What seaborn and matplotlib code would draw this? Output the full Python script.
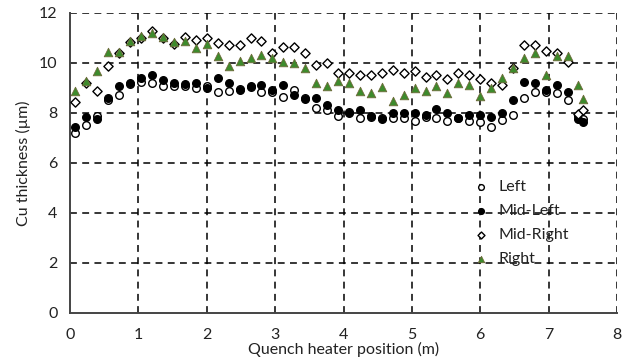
import numpy as np
import pandas as pd
import matplotlib
matplotlib.use("Agg")
import matplotlib.pyplot as plt
import seaborn as sns

# ---- data ----
position = [0.08, 0.24, 0.40, 0.56, 0.72, 0.88, 1.04, 1.20, 1.36, 1.52,
            1.68, 1.84, 2.00, 2.16, 2.32, 2.48, 2.64, 2.80, 2.96, 3.12,
            3.28, 3.44, 3.60, 3.76, 3.92, 4.08, 4.24, 4.40, 4.56, 4.72,
            4.88, 5.04, 5.20, 5.36, 5.52, 5.68, 5.84, 6.00, 6.16, 6.32,
            6.48, 6.64, 6.80, 6.96, 7.12, 7.28, 7.43, 7.51]

left = [7.21, 7.52, 7.88, 8.52, 8.72, 9.16, 9.25, 9.19, 9.08, 9.10,
        9.09, 8.99, 9.08, 8.85, 8.89, 8.95, 9.03, 8.85, 8.85, 8.63,
        8.92, 8.59, 8.19, 8.12, 7.88, 8.05, 7.81, 7.85, 7.79, 7.79,
        7.79, 7.69, 7.85, 7.79, 7.69, 7.80, 7.69, 7.65, 7.43, 7.72,
        7.92, 8.59, 8.83, 8.85, 8.81, 8.52, 7.90, 7.75]

mid_left = [7.45, 7.83, 7.75, 8.59, 9.08, 9.21, 9.39, 9.52, 9.32, 9.21,
            9.16, 9.21, 8.99, 9.39, 9.21, 8.92, 9.08, 9.12, 8.92, 9.12,
            8.72, 8.55, 8.59, 8.32, 8.12, 8.01, 8.12, 7.88, 7.76, 8.01,
            8.01, 8.01, 7.92, 8.15, 8.01, 7.79, 7.92, 7.92, 7.83, 8.01,
            8.52, 9.23, 9.21, 8.92, 9.12, 8.85, 7.75, 7.65]

mid_right = [8.45, 9.21, 8.89, 9.89, 10.41, 10.85, 10.99, 11.29, 10.99, 10.76,
             11.03, 10.92, 10.99, 10.79, 10.72, 10.72, 10.99, 10.89, 10.41, 10.63,
             10.63, 10.41, 9.92, 10.01, 9.61, 9.61, 9.52, 9.52, 9.59, 9.72,
             9.61, 9.69, 9.43, 9.52, 9.35, 9.61, 9.52, 9.35, 9.21, 9.12,
             9.79, 10.72, 10.72, 10.49, 10.41, 10.05, 7.95, 8.12]

right = [8.89, 9.29, 9.69, 10.45, 10.45, 10.89, 11.08, 11.21, 11.03, 10.85,
         10.89, 10.59, 10.76, 10.29, 9.89, 10.09, 10.21, 10.32, 10.21, 10.05,
         10.01, 9.79, 9.21, 9.08, 9.29, 9.21, 8.89, 8.81, 9.03, 8.49,
         8.72, 8.99, 8.89, 9.08, 8.81, 9.21, 9.12, 8.69, 8.99, 9.39,
         9.79, 10.19, 10.39, 9.52, 10.28, 10.28, 9.12, 8.56]

series_names = ["Left", "Mid-Left", "Mid-Right", "Right"]
x_ticks = [0, 1, 2, 3, 4, 5, 6, 7, 8]
y_ticks = [0, 2, 4, 6, 8, 10, 12]

df = pd.DataFrame({
    "pos": position * 4,
    "thk": left + mid_left + mid_right + right,
    "series": sum([[n] * len(position) for n in series_names], []),
})

# ---- styling ----
sns.set_theme(style="white")
plt.rcParams["font.family"] = ["Lato", "DejaVu Sans"]

fig = plt.figure(figsize=(6.32, 3.58), dpi=100)
ax = fig.add_axes([70 / 632, 1 - 313 / 358, 547 / 632, 300 / 358])

styles = {
    "Left": dict(marker="o", color="white", edgecolor="black", s=30, linewidth=1.0),
    "Mid-Left": dict(marker="o", color="black", edgecolor="black", s=30, linewidth=1.0),
    "Mid-Right": dict(marker="D", color="white", edgecolor="black", s=22, linewidth=1.0),
    "Right": dict(marker="^", color="#3d8b2c", edgecolor="#6e6a3a", s=38, linewidth=0.6),
}
for name in series_names:
    sub = df[df["series"] == name]
    sns.scatterplot(data=sub, x="pos", y="thk", ax=ax, label=name, zorder=3,
                    **styles[name])

ax.set_xlim(0, 8)
ax.set_ylim(0, 12)
ax.set_xticks(x_ticks)
ax.set_yticks(y_ticks)
ax.tick_params(axis="both", labelsize=11.5, length=0, colors="#222222")
ax.tick_params(axis="x", pad=11)
ax.tick_params(axis="y", pad=9)

for v in x_ticks[1:]:
    ax.axvline(v, color="black", linestyle=(0, (4.5, 3.5)), linewidth=1.1, zorder=1)
for v in y_ticks[1:]:
    ax.axhline(v, color="black", linestyle=(0, (4.5, 3.5)), linewidth=1.1, zorder=1)

for s in ["top", "right"]:
    ax.spines[s].set_visible(False)
for s in ["left", "bottom"]:
    ax.spines[s].set_color("#444444")
    ax.spines[s].set_linewidth(1.4)

ax.set_xlabel("Quench heater position (m)", fontsize=11.5, labelpad=0, color="#222222")
ax.set_ylabel("Cu thickness (µm)", fontsize=11.5, labelpad=6, color="#222222")

leg = ax.legend(loc="upper left", bbox_to_anchor=(0.71, 0.465), frameon=False,
                fontsize=11.5, handletextpad=0.1, labelspacing=0.62,
                markerscale=0.75, borderaxespad=0)
for t in leg.get_texts():
    t.set_color("#222222")

fig.savefig("out.png", dpi=100)
